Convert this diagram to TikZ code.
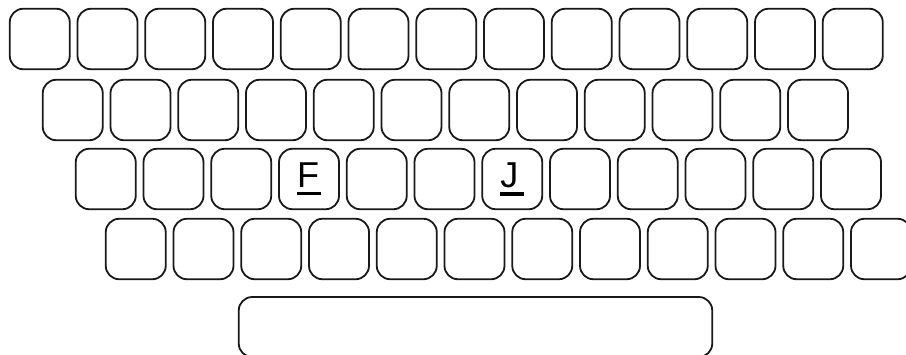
\documentclass[tikz,border=0pt]{standalone}
\usepackage{fontspec}
\setmainfont{Liberation Sans}
\newcommand\keylabel[1]{\fontsize{36}{36}\selectfont\vtop{\hbox to 24pt{#1\hss}\kern4.5pt\hrule height 3.5pt}}
\begin{document}
\begin{tikzpicture}[x=1pt,y=-1pt,
  keybox/.style={draw=black!90, line width=1.8pt, rounded corners=13.5pt,
    minimum width=60pt, minimum height=60.5pt, inner sep=0pt, fill=white},
  spacebox/.style={keybox, minimum width=473.5pt, minimum height=60pt}]
\useasboundingbox (0,0) rectangle (906,354);
\fill[white] (0,0) rectangle (906,354);
\clip (0,0) rectangle (906,354);
% row 1
\foreach \i in {1,...,13}
  \node[keybox] (ra\i) at ({39.75+(\i-1)*67.75}, 39) {};
% row 2
\foreach \i in {1,...,12}
  \node[keybox] (rb\i) at ({72.75+(\i-1)*67.75}, 110) {};
% row 3
\foreach \i in {1,2,3,5,6,8,9,10,11,12}
  \node[keybox] (rc\i) at ({105.75+(\i-1)*67.75}, 179) {};
\node[keybox] (rc4) at ({105.75+3*67.75}, 179) {\keylabel{F}};
\node[keybox] (rc7) at ({105.75+6*67.75}, 179) {\keylabel{J}};
% row 4
\foreach \i in {1,...,12}
  \node[keybox] (rd\i) at ({135.75+(\i-1)*67.75}, 249) {};
% space bar
\node[spacebox] (space) at (475.5, 327) {};
\end{tikzpicture}
\end{document}
